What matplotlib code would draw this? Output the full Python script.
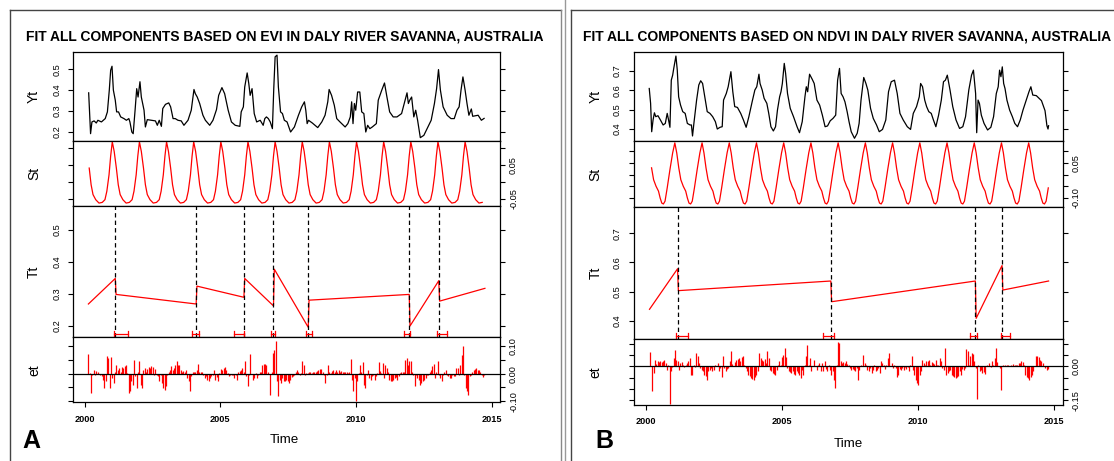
import numpy as np
import matplotlib
matplotlib.use("Agg")
import matplotlib.pyplot as plt
from matplotlib.lines import Line2D
import matplotlib.transforms as mtransforms

plt.rcParams['font.family'] = ['Liberation Sans', 'DejaVu Sans']

# ---------------- datos ----------------
# Panel A (EVI)
yt_a_t = [2000.15, 2000.22, 2000.27, 2000.35, 2000.43, 2000.49, 2000.62, 2000.76, 2000.84, 2000.91,
          2000.96, 2001.01, 2001.06, 2001.13, 2001.18, 2001.25, 2001.33, 2001.45, 2001.54, 2001.63,
          2001.67, 2001.74, 2001.79, 2001.86, 2001.92, 2001.97, 2002.04, 2002.09, 2002.19, 2002.24,
          2002.31, 2002.46, 2002.61, 2002.68, 2002.75, 2002.83, 2002.88, 2002.98, 2003.10, 2003.17,
          2003.26, 2003.34, 2003.44, 2003.56, 2003.66, 2003.81, 2003.93, 2004.03, 2004.08, 2004.15,
          2004.24, 2004.36, 2004.45, 2004.61, 2004.73, 2004.86, 2004.94, 2005.06, 2005.16, 2005.29,
          2005.41, 2005.55, 2005.72, 2005.77, 2005.85, 2005.90, 2005.99, 2006.05, 2006.10, 2006.17,
          2006.25, 2006.34, 2006.47, 2006.58, 2006.64, 2006.70, 2006.77, 2006.84, 2006.92, 2006.97,
          2007.02, 2007.09, 2007.14, 2007.22, 2007.29, 2007.36, 2007.46, 2007.59, 2007.73, 2007.88,
          2008.00, 2008.10, 2008.15, 2008.20, 2008.25, 2008.39, 2008.59, 2008.74, 2008.86, 2008.96,
          2009.01, 2009.10, 2009.20, 2009.29, 2009.41, 2009.60, 2009.70, 2009.79, 2009.84, 2009.89,
          2009.94, 2009.99, 2010.06, 2010.14, 2010.21, 2010.29, 2010.36, 2010.43, 2010.51, 2010.60,
          2010.75, 2010.82, 2010.95, 2011.05, 2011.14, 2011.24, 2011.37, 2011.51, 2011.68, 2011.81,
          2011.88, 2011.93, 2011.98, 2012.05, 2012.13, 2012.20, 2012.27, 2012.37, 2012.50, 2012.64,
          2012.77, 2012.89, 2012.97, 2013.04, 2013.11, 2013.21, 2013.36, 2013.50, 2013.62, 2013.72,
          2013.80, 2013.87, 2013.94, 2014.02, 2014.09, 2014.16, 2014.25, 2014.30, 2014.50, 2014.62,
          2014.72]
yt_a_v = [0.387, 0.192, 0.248, 0.253, 0.243, 0.256, 0.248, 0.264, 0.296, 0.400,
          0.495, 0.514, 0.400, 0.352, 0.296, 0.296, 0.272, 0.264, 0.256, 0.264,
          0.248, 0.200, 0.192, 0.304, 0.407, 0.367, 0.440, 0.367, 0.304, 0.224,
          0.259, 0.256, 0.253, 0.232, 0.256, 0.227, 0.312, 0.332, 0.339, 0.320,
          0.264, 0.264, 0.256, 0.253, 0.232, 0.256, 0.304, 0.403, 0.383, 0.367,
          0.336, 0.280, 0.256, 0.232, 0.256, 0.307, 0.375, 0.412, 0.383, 0.304,
          0.248, 0.232, 0.227, 0.296, 0.320, 0.415, 0.482, 0.431, 0.375, 0.407,
          0.288, 0.248, 0.256, 0.232, 0.264, 0.272, 0.264, 0.248, 0.216, 0.407,
          0.559, 0.567, 0.415, 0.296, 0.288, 0.256, 0.248, 0.200, 0.224, 0.280,
          0.320, 0.344, 0.304, 0.240, 0.256, 0.243, 0.221, 0.248, 0.280, 0.344,
          0.403, 0.375, 0.328, 0.264, 0.248, 0.224, 0.240, 0.272, 0.344, 0.240,
          0.336, 0.304, 0.391, 0.391, 0.296, 0.288, 0.200, 0.232, 0.216, 0.224,
          0.240, 0.352, 0.400, 0.434, 0.367, 0.296, 0.272, 0.272, 0.288, 0.352,
          0.387, 0.336, 0.352, 0.367, 0.272, 0.304, 0.256, 0.173, 0.184, 0.221,
          0.256, 0.336, 0.407, 0.498, 0.400, 0.320, 0.280, 0.264, 0.264, 0.304,
          0.320, 0.400, 0.463, 0.400, 0.336, 0.280, 0.310, 0.275, 0.280, 0.256,
          0.265]

# componente estacional: un ciclo (fase desde el pico, valor)
st_a_fase = [0.00, 0.07, 0.15, 0.22, 0.29, 0.39, 0.51, 0.63, 0.73, 0.80, 0.88, 0.94]
st_a_val = [0.118, 0.090, 0.041, -0.008, -0.037, -0.052, -0.062, -0.060, -0.052, -0.027, 0.021, 0.076]
st_a_pico = 0.02

tt_a_t = [2000.14, 2001.13, 2001.16, 2004.11, 2004.14, 2005.87, 2005.90, 2006.96,
          2006.99, 2008.24, 2008.27, 2011.96, 2011.99, 2013.05, 2013.08, 2014.75]
tt_a_v = [0.268, 0.348, 0.298, 0.268, 0.324, 0.289, 0.348, 0.262,
          0.377, 0.195, 0.280, 0.298, 0.199, 0.341, 0.277, 0.317]
brk_a = [2001.13, 2004.11, 2005.87, 2006.96, 2008.24, 2011.96, 2013.05]
ci_a_lo = [2001.07, 2003.96, 2005.51, 2006.86, 2008.16, 2011.78, 2012.97]
ci_a_hi = [2001.61, 2004.20, 2005.89, 2007.00, 2008.37, 2011.99, 2013.34]

et_a = [0.072, 0.004, -0.070, -0.006, 0.012, -0.004, 0.011, 0.008, -0.001, -0.004, -0.010, -0.022, -0.052, -0.028, 0.063, 0.057,
        -0.052, 0.059, -0.016, -0.034, 0.008, 0.033, 0.015, 0.021, 0.008, 0.023, 0.021, 0.027, 0.033, 0.002, -0.070, -0.064, -0.028, -0.040, 0.051, -0.010, -0.052,
        0.008, 0.047, -0.040, -0.052, 0.015, 0.021, 0.008, 0.018, 0.023, 0.021, 0.027, 0.023, -0.004, 0.018, -0.004, -0.010, -0.028, -0.004, -0.034, -0.052,
        -0.058, -0.046, -0.004, 0.008, 0.015, 0.027, 0.015, 0.021, 0.033, 0.045, 0.030, 0.033, 0.015, 0.008, 0.011, 0.008, 0.012, -0.016, -0.028, -0.064,
        -0.010, 0.008, 0.008, 0.008, 0.015, 0.035, 0.005, 0.008, 0.005, -0.004, -0.016, -0.010, -0.022, -0.028, -0.016, -0.010, -0.004, 0.015, -0.022, -0.013,
        -0.028, 0.002, 0.018, 0.015, 0.021, 0.023, 0.015, 0.002, -0.010, -0.006, -0.004, -0.004, -0.016, -0.004, -0.022, 0.008, 0.011, 0.015, 0.021, 0.008, 0.045,
        -0.010, -0.046, -0.004, 0.072, -0.001, -0.022, -0.016, 0.002, -0.016, -0.004, 0.008, 0.006, 0.033, 0.035, 0.035, 0.033, 0.008, -0.001, -0.076, 0.008, 0.075,
        0.087, 0.120, -0.028, -0.082, -0.022, -0.034, -0.016, -0.028, -0.028, -0.022, -0.028, -0.034, -0.022, -0.013, -0.010, -0.004, 0.008, 0.015, 0.008, -0.004,
        0.002, 0.045, 0.033, -0.004, 0.002, 0.004, 0.005, 0.006, 0.002, 0.006, 0.008, 0.005, 0.011, 0.015, 0.018, 0.018, 0.008, -0.004, -0.034, -0.004,
        0.033, 0.008, 0.002, 0.011, 0.015, 0.008, 0.015, 0.008, 0.012, 0.008, 0.011, 0.008, 0.008, 0.006, 0.006, 0.004, 0.008, 0.055, -0.022, -0.064, -0.016,
        -0.100, -0.028, 0.002, 0.033, 0.008, 0.042, -0.040, -0.052, -0.004, 0.015, -0.016, -0.022, -0.010, -0.004, -0.022, -0.010, 0.002, 0.042, 0.011, 0.002,
        0.039, -0.016, 0.033, 0.021, 0.008, -0.022, -0.028, -0.028, -0.022, -0.016, -0.013, -0.022, -0.010, 0.002, 0.008, 0.008, 0.008, 0.051, 0.057, 0.030, 0.045,
        0.045, 0.008, -0.004, -0.046, -0.004, -0.016, -0.022, -0.040, -0.034, -0.028, -0.022, -0.016, -0.004, -0.004, 0.008, 0.015, 0.027, 0.035, -0.016, 0.008,
        0.045, -0.004, -0.016, -0.028, -0.004, 0.008, 0.015, -0.004, -0.010, -0.016, -0.016, -0.004, -0.010, -0.010, 0.021, 0.021, -0.004, 0.033, 0.069, 0.100, -0.004,
        -0.052, -0.064, -0.076, -0.010, -0.004, 0.008, 0.012, 0.018, 0.021, 0.015, 0.015, 0.008, -0.004, -0.013, -0.006]
et_a_ini, et_a_fin = 2000.14, 2014.73

# Panel B (NDVI)
yt_b_t = [2000.13, 2000.18, 2000.22, 2000.27, 2000.32, 2000.37, 2000.45, 2000.54, 2000.64, 2000.72,
          2000.79, 2000.84, 2000.89, 2000.94, 2000.99, 2001.03, 2001.11, 2001.16, 2001.21, 2001.28,
          2001.36, 2001.45, 2001.53, 2001.63, 2001.68, 2001.72, 2001.77, 2001.87, 2001.95, 2002.02,
          2002.09, 2002.19, 2002.26, 2002.36, 2002.46, 2002.56, 2002.63, 2002.73, 2002.81, 2002.86,
          2002.96, 2003.03, 2003.13, 2003.20, 2003.27, 2003.37, 2003.49, 2003.59, 2003.69, 2003.79,
          2003.91, 2004.01, 2004.08, 2004.16, 2004.20, 2004.28, 2004.35, 2004.45, 2004.52, 2004.60,
          2004.69, 2004.77, 2004.84, 2004.92, 2004.97, 2005.02, 2005.09, 2005.14, 2005.21, 2005.31,
          2005.43, 2005.56, 2005.65, 2005.75, 2005.85, 2005.90, 2005.95, 2006.02, 2006.12, 2006.19,
          2006.29, 2006.39, 2006.49, 2006.59, 2006.68, 2006.78, 2006.88, 2006.98, 2007.05, 2007.12,
          2007.18, 2007.25, 2007.32, 2007.40, 2007.47, 2007.55, 2007.67, 2007.77, 2007.84, 2007.91,
          2008.01, 2008.09, 2008.16, 2008.26, 2008.36, 2008.48, 2008.58, 2008.70, 2008.82, 2008.92,
          2009.02, 2009.14, 2009.24, 2009.34, 2009.46, 2009.61, 2009.73, 2009.83, 2009.95, 2010.05,
          2010.10, 2010.17, 2010.25, 2010.32, 2010.40, 2010.49, 2010.57, 2010.66, 2010.76, 2010.86,
          2010.94, 2011.01, 2011.08, 2011.18, 2011.28, 2011.40, 2011.53, 2011.65, 2011.75, 2011.87,
          2011.97, 2012.04, 2012.12, 2012.16, 2012.21, 2012.26, 2012.33, 2012.43, 2012.56, 2012.68,
          2012.78, 2012.88, 2012.95, 2013.00, 2013.05, 2013.10, 2013.15, 2013.20, 2013.27, 2013.37,
          2013.47, 2013.56, 2013.66, 2013.76, 2013.86, 2013.98, 2014.08, 2014.15, 2014.22, 2014.35,
          2014.54, 2014.67, 2014.74, 2014.78, 2014.80]
yt_b_v = [0.610, 0.533, 0.386, 0.447, 0.484, 0.464, 0.469, 0.447, 0.421, 0.429,
          0.481, 0.447, 0.409, 0.653, 0.679, 0.714, 0.778, 0.705, 0.567, 0.524,
          0.490, 0.481, 0.429, 0.421, 0.421, 0.364, 0.429, 0.550, 0.628, 0.650,
          0.636, 0.550, 0.490, 0.481, 0.464, 0.438, 0.400, 0.409, 0.412, 0.550,
          0.584, 0.619, 0.697, 0.593, 0.516, 0.512, 0.481, 0.447, 0.409, 0.464,
          0.541, 0.602, 0.619, 0.684, 0.636, 0.602, 0.559, 0.533, 0.481, 0.412,
          0.390, 0.412, 0.498, 0.567, 0.593, 0.636, 0.740, 0.688, 0.584, 0.507,
          0.464, 0.412, 0.381, 0.438, 0.567, 0.619, 0.593, 0.684, 0.657, 0.636,
          0.550, 0.524, 0.472, 0.412, 0.416, 0.443, 0.455, 0.472, 0.653, 0.714,
          0.584, 0.567, 0.541, 0.490, 0.438, 0.386, 0.352, 0.378, 0.429, 0.550,
          0.667, 0.636, 0.602, 0.507, 0.455, 0.421, 0.386, 0.398, 0.447, 0.593,
          0.645, 0.653, 0.584, 0.481, 0.447, 0.412, 0.398, 0.481, 0.516, 0.567,
          0.636, 0.619, 0.550, 0.516, 0.490, 0.481, 0.447, 0.412, 0.472, 0.550,
          0.645, 0.653, 0.679, 0.602, 0.516, 0.447, 0.403, 0.412, 0.464, 0.602,
          0.679, 0.705, 0.584, 0.381, 0.550, 0.533, 0.472, 0.429, 0.395, 0.409,
          0.464, 0.584, 0.619, 0.705, 0.671, 0.722, 0.636, 0.610, 0.550, 0.498,
          0.464, 0.429, 0.412, 0.447, 0.498, 0.550, 0.593, 0.619, 0.576, 0.573,
          0.547, 0.495, 0.417, 0.400, 0.417]

st_b_fase = [0.00, 0.07, 0.145, 0.22, 0.31, 0.40, 0.46, 0.52, 0.58, 0.64, 0.72, 0.82, 0.92]
st_b_val = [0.136, 0.093, 0.029, -0.022, -0.050, -0.071, -0.100, -0.122, -0.126, -0.114, -0.057, 0.021, 0.093]
st_b_pico = 0.07

tt_b_t = [2000.14, 2001.17, 2001.20, 2006.80, 2006.83, 2012.11, 2012.14, 2013.09, 2013.12, 2014.80]
tt_b_v = [0.439, 0.578, 0.503, 0.536, 0.465, 0.536, 0.408, 0.589, 0.505, 0.536]
brk_b = [2001.17, 2006.80, 2012.11, 2013.09]
ci_b_lo = [2001.11, 2006.50, 2011.92, 2013.05]
ci_b_hi = [2001.56, 2006.93, 2012.18, 2013.40]

et_b = [0.063, 0.000, -0.110, -0.029, 0.029, 0.010, 0.022, 0.019, 0.022, 0.019, 0.025, 0.029, 0.015, -0.015, 0.007, -0.165, -0.022, -0.004,
        0.037, 0.074, 0.029, 0.022, -0.015, 0.015, 0.019, 0.007, -0.004, 0.007, 0.015, 0.025, 0.037, -0.037, -0.040, 0.007, -0.004, 0.059, 0.044, 0.015,
        -0.007, -0.015, -0.022, -0.037, -0.044, -0.059, -0.022, -0.015, -0.007, -0.022, -0.015, 0.007, 0.000, 0.015, -0.022, -0.007, -0.049, 0.044, -0.007, -0.022, -0.010,
        -0.007, 0.022, 0.069, 0.010, 0.000, 0.019, 0.029, 0.034, 0.037, 0.022, 0.040, 0.044, 0.007, -0.007, -0.022, -0.037, -0.044, -0.051, -0.054, -0.059,
        -0.049, -0.037, -0.022, 0.059, 0.037, 0.029, 0.022, 0.034, 0.015, 0.066, 0.037, -0.015, -0.022, -0.029, -0.034, -0.037, -0.015, 0.007, 0.022, 0.007,
        0.040, 0.051, 0.081, 0.040, -0.007, -0.022, -0.025, -0.029, -0.022, -0.034, -0.037, -0.022, -0.029, -0.040, -0.051, -0.015, -0.037, 0.007, 0.044, 0.096, 0.007,
        0.037, -0.022, 0.000, 0.029, 0.000, -0.015, 0.007, 0.015, -0.022, 0.015, -0.022, 0.022, -0.010, -0.022, 0.007, -0.015, -0.037, -0.022, -0.059, -0.096,
        0.007, 0.107, 0.103, 0.022, 0.015, 0.019, 0.015, 0.022, 0.010, 0.007, -0.007, -0.015, -0.010, -0.015, -0.019, -0.007, -0.059, -0.015, 0.007, 0.000,
        0.049, 0.015, 0.007, -0.015, -0.022, -0.007, -0.029, -0.015, 0.007, -0.022, -0.015, -0.007, -0.029, 0.022, 0.015, 0.007, -0.010, 0.007, 0.037, 0.059, 0.000,
        0.015, -0.007, 0.007, -0.007, -0.049, -0.037, -0.010, -0.015, -0.007, -0.015, -0.004, -0.010, -0.004, -0.019, 0.007, 0.044, -0.015, -0.037, -0.059, -0.074, -0.081,
        -0.037, -0.022, 0.029, 0.015, 0.007, 0.022, 0.022, 0.029, 0.007, 0.019, 0.015, 0.010, 0.029, 0.007, 0.007, 0.037, 0.022, -0.007, -0.015, 0.081,
        -0.037, -0.029, -0.022, -0.015, -0.037, -0.044, -0.049, -0.051, -0.049, -0.044, -0.022, -0.037, -0.010, -0.015, -0.007, 0.078, 0.066, 0.007, 0.044, 0.059,
        0.054, 0.022, -0.007, -0.144, 0.007, -0.022, -0.015, -0.029, -0.025, -0.034, 0.007, 0.000, 0.015, -0.004, 0.022, 0.007, 0.037, 0.081, 0.019, 0.000,
        -0.007, -0.103, 0.004, 0.000, 0.007, 0.004, 0.007, 0.000, 0.007, 0.000, 0.010, 0.004, 0.004, 0.007, 0.015, 0.015, 0.022, 0.019, 0.007, -0.037, -0.049,
        -0.051, -0.059, -0.049, -0.037, -0.022, 0.000, 0.044, 0.044, 0.040, 0.029, 0.025, 0.015, 0.000, -0.007, -0.015, -0.010]
et_b_ini, et_b_fin = 2000.14, 2014.78

anios = [2000, 2005, 2010, 2015]

# ---------------- figura ----------------
W, H = 1114, 461
fig = plt.figure(figsize=(W / 100, H / 100), dpi=100)


def caja(l, t, r, b):
    # rectangulo en pixeles -> fraccion de figura
    return [l / W, 1 - b / H, (r - l) / W, (b - t) / H]


def linea_fig(x0, y0, x1, y1, color, lw=1.0):
    fig.add_artist(Line2D([x0 / W, x1 / W], [1 - y0 / H, 1 - y1 / H],
                          transform=fig.transFigure, color=color, lw=lw))


def texto(x, y, s, **kw):
    fig.text(x / W, 1 - y / H, s, **kw)


def estacional(fase, val, pico, t0, t1):
    ts, vs = [], []
    for yr in range(1999, 2016):
        for p, v in zip(fase, val):
            t = yr + pico + p
            if t0 <= t <= t1:
                ts.append(t)
                vs.append(v)
    return ts, vs


def preparar(ax, xlim, ylim, ticks, etiquetas, lado):
    ax.set_xlim(xlim)
    ax.set_ylim(ylim)
    ax.set_yticks(ticks)
    ax.set_yticklabels(etiquetas)
    ax.tick_params(axis='y', left=True, right=True, direction='out', length=3.6, width=0.8,
                   labelsize=6.6, labelleft=(lado == 'izq'), labelright=(lado == 'der'),
                   pad=8.2 if lado == 'izq' else 6.2)
    for tk in ax.yaxis.get_major_ticks():
        for lab in (tk.label1, tk.label2):
            lab.set_rotation(90)
            lab.set_va('center')
            lab.set_ha('center')
    ax.set_xticks([])
    for s in ax.spines.values():
        s.set_linewidth(0.9)


def panel(l, r, filas, xlim, lims, ticks, etqs, yt_t, yt_v, st_t, st_v, tt_t, tt_v,
          brk, ci_lo, ci_hi, et_t, et_v):
    lados = ['izq', 'der', 'izq', 'der']
    axs = []
    for i in range(4):
        ax = fig.add_axes(caja(l, filas[i], r, filas[i + 1]))
        preparar(ax, xlim, lims[i], ticks[i], etqs[i], lados[i])
        axs.append(ax)
    a_yt, a_st, a_tt, a_et = axs
    a_yt.plot(yt_t, yt_v, color='black', lw=0.9)
    a_st.plot(st_t, st_v, color='red', lw=0.9)
    a_tt.plot(tt_t, tt_v, color='red', lw=0.9)
    for b in brk:
        a_tt.axvline(b, color='black', lw=0.9, ls=(0, (3.5, 2.5)))
    tr = mtransforms.blended_transform_factory(a_tt.transData, a_tt.transAxes)
    for lo, hi in zip(ci_lo, ci_hi):
        a_tt.plot([lo, hi], [0.022, 0.022], color='red', lw=0.9, transform=tr, clip_on=False)
        for xx in (lo, hi):
            a_tt.plot([xx, xx], [0.0, 0.045], color='red', lw=0.9, transform=tr, clip_on=False)
    a_et.vlines(et_t, 0, et_v, color='red', lw=0.9)
    a_et.axhline(0, color='black', lw=0.9)
    a_et.set_xticks(anios)
    a_et.set_xticklabels([str(a) for a in anios], fontweight='bold')
    a_et.tick_params(axis='x', direction='out', length=3.6, width=0.8, labelsize=6.6, pad=5.5)
    return axs


# Panel A
st_a_t, st_a_v = estacional(st_a_fase, st_a_val, st_a_pico, 2000.14, 2014.73)
et_a_t = np.linspace(et_a_ini, et_a_fin, len(et_a))
panel(73.2, 500, [52, 141, 206, 337, 402.3], (1999.580, 2015.306),
      [(0.157, 0.582), (-0.0706, 0.1206), (0.1646, 0.575), (-0.104, 0.1335)],
      [[0.2, 0.3, 0.4, 0.5], [-0.05, 0.0, 0.05, 0.10], [0.2, 0.3, 0.4, 0.5], [-0.10, -0.05, 0.0, 0.05, 0.10]],
      [['0.2', '0.3', '0.4', '0.5'], ['-0.05', '', '0.05', ''], ['0.2', '0.3', '0.4', '0.5'],
       ['-0.10', '', '0.00', '', '0.10']],
      yt_a_t, yt_a_v, st_a_t, st_a_v, tt_a_t, tt_a_v, brk_a, ci_a_lo, ci_a_hi, et_a_t, et_a)

# Panel B
st_b_t, st_b_v = estacional(st_b_fase, st_b_val, st_b_pico, 2000.14, 2014.80)
et_b_t = np.linspace(et_b_ini, et_b_fin, len(et_b))
panel(634, 1062.5, [52, 141, 206.7, 339.3, 404.7], (1999.570, 2015.312),
      [(0.338, 0.799), (-0.1376, 0.144), (0.336, 0.791), (-0.169, 0.119)],
      [[0.4, 0.5, 0.6, 0.7], [-0.10, -0.05, 0.0, 0.05, 0.10], [0.4, 0.5, 0.6, 0.7],
       [-0.15, -0.10, -0.05, 0.0, 0.05, 0.10]],
      [['0.4', '0.5', '0.6', '0.7'], ['-0.10', '', '', '0.05', ''], ['0.4', '0.5', '0.6', '0.7'],
       ['-0.15', '', '', '0.00', '', '']],
      yt_b_t, yt_b_v, st_b_t, st_b_v, tt_b_t, tt_b_v, brk_b, ci_b_lo, ci_b_hi, et_b_t, et_b)

# marcos de los dos paneles
linea_fig(9.5, 10.5, 9.5, 470, '#444444')
linea_fig(9.5, 10.5, 561, 10.5, '#444444')
linea_fig(561, 10.5, 561, 470, '#888888')
linea_fig(564.5, 0, 564.5, 470, '#999999')
linea_fig(570.5, 10.5, 570.5, 470, '#444444')
linea_fig(570.5, 10.5, 1120, 10.5, '#444444')

# textos
texto(284.5, 40.7, 'FIT ALL COMPONENTS BASED ON EVI IN DALY RIVER SAVANNA, AUSTRALIA',
      fontsize=10, fontweight='bold', ha='center', va='baseline')
texto(583, 40.7, 'FIT ALL COMPONENTS BASED ON NDVI IN DALY RIVER SAVANNA, AUSTRALIA',
      fontsize=10, fontweight='bold', ha='left', va='baseline')

for x, ys in [(34, [96.5, 173.5, 271.5, 369.7]), (595.3, [96.5, 174, 273, 372])]:
    for y, s in zip(ys, ['Yt', 'St', 'Tt', 'et']):
        texto(x, y, s, fontsize=10, rotation=90, ha='center', va='center')

texto(284.6, 443, 'Time', fontsize=9.6, ha='center', va='baseline')
texto(848, 446.5, 'Time', fontsize=9.6, ha='center', va='baseline')
texto(31, 441, 'A', fontsize=18, fontweight='bold', ha='center', va='center')
texto(604, 441, 'B', fontsize=18, fontweight='bold', ha='center', va='center')

fig.savefig('out.png', dpi=100, facecolor='white')
